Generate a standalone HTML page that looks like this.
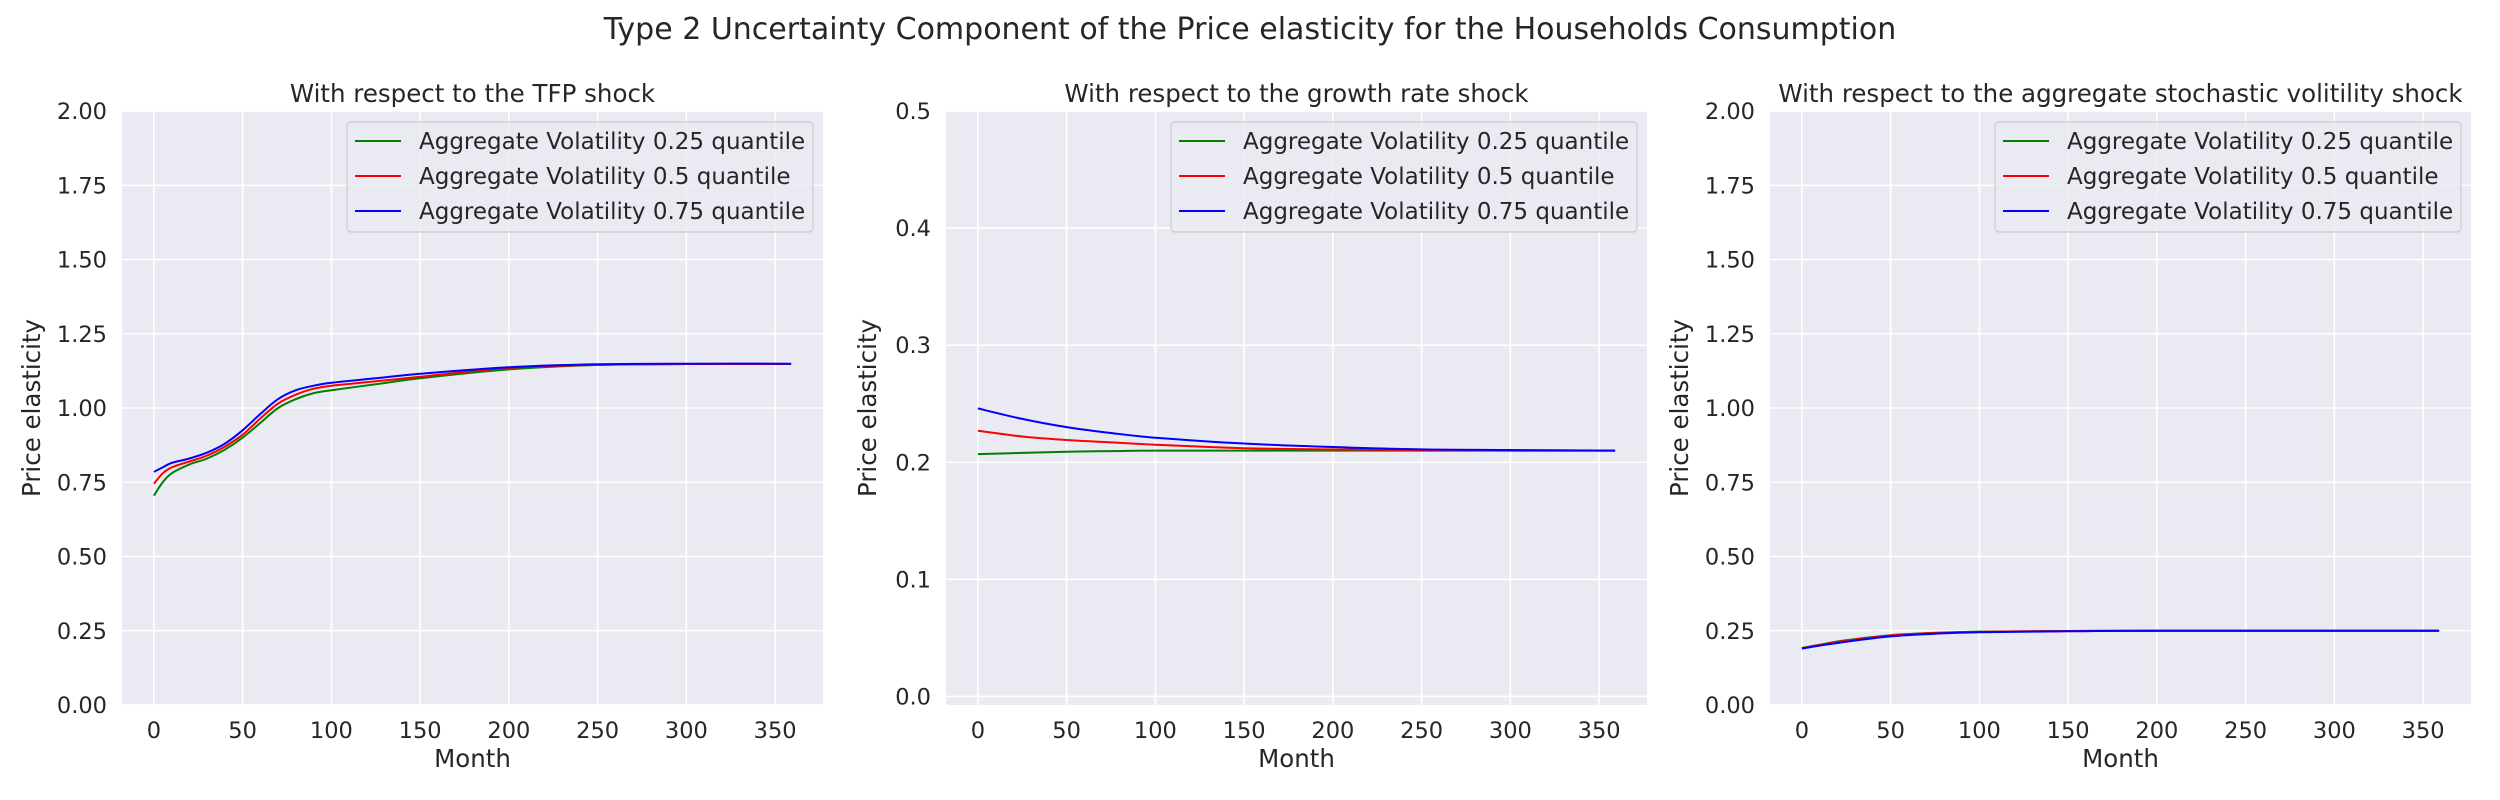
<!DOCTYPE html>
<html><head><meta charset="utf-8">
<style>
html,body{margin:0;padding:0;background:#fff;}
svg{display:block;font-family:"DejaVu Sans","Liberation Sans",sans-serif;}
</style></head>
<body>
<svg id="fig" width="2500" height="800" viewBox="0 0 2500 800" xmlns="http://www.w3.org/2000/svg">
<text x="1250" y="39" text-anchor="middle" font-size="30" fill="#262626">Type 2 Uncertainty Component of the Price elasticity for the Households Consumption</text>
</svg>
<script>
const months=[0,5,10,20,30,40,50,60,70,80,90,100,125,150,200,250,300,359];
const tfpLow=[0.705,0.75,0.78,0.81,0.83,0.86,0.90,0.95,1.00,1.03,1.05,1.06,1.08,1.10,1.13,1.145,1.148,1.148];
const tfpMid=[0.745,0.78,0.80,0.82,0.84,0.87,0.91,0.965,1.015,1.045,1.065,1.075,1.09,1.105,1.135,1.145,1.148,1.148];
const tfpHigh=[0.785,0.80,0.815,0.83,0.85,0.88,0.925,0.98,1.03,1.06,1.075,1.085,1.10,1.115,1.137,1.147,1.149,1.149];
const grMonths=[0,25,50,75,100,150,200,250,300,359];
const grLow=[0.207,0.208,0.209,0.2095,0.210,0.210,0.210,0.210,0.210,0.210];
const grMid=[0.227,0.222,0.219,0.217,0.215,0.212,0.211,0.2105,0.210,0.210];
const grHigh=[0.246,0.237,0.230,0.225,0.221,0.216,0.213,0.211,0.2105,0.210];
const svMonths=[0,10,25,50,75,100,150,200,359];
const svLow=[0.192,0.203,0.218,0.235,0.243,0.247,0.249,0.25,0.25];
const svMid=[0.191,0.202,0.216,0.234,0.242,0.246,0.249,0.25,0.25];
const svHigh=[0.190,0.200,0.213,0.231,0.240,0.245,0.248,0.25,0.25];
const xTicks=[0,50,100,150,200,250,300,350];
const yTicks1=["0.00","0.25","0.50","0.75","1.00","1.25","1.50","1.75","2.00"];
const yTicks2=["0.0","0.1","0.2","0.3","0.4","0.5"];
const legendLabels=["Aggregate Volatility 0.25 quantile","Aggregate Volatility 0.5 quantile","Aggregate Volatility 0.75 quantile"];
const colors=["#008000","#ff0000","#0000ff"];

const NS="http://www.w3.org/2000/svg";
const fig=document.getElementById('fig');
function mk(tag,attrs,parent){const e=document.createElementNS(NS,tag);for(const k in attrs)e.setAttribute(k,attrs[k]);(parent||fig).appendChild(e);return e;}
function smooth(P){
 let d='M'+P[0][0].toFixed(1)+','+P[0][1].toFixed(1);
 for(let i=0;i<P.length-1;i++){
  const p0=P[Math.max(0,i-1)],p1=P[i],p2=P[i+1],p3=P[Math.min(P.length-1,i+2)];
  const c1=[p1[0]+(p2[0]-p0[0])/6,p1[1]+(p2[1]-p0[1])/6];
  const c2=[p2[0]-(p3[0]-p1[0])/6,p2[1]-(p3[1]-p1[1])/6];
  d+=` C${c1[0].toFixed(1)},${c1[1].toFixed(1)} ${c2[0].toFixed(1)},${c2[1].toFixed(1)} ${p2[0].toFixed(1)},${p2[1].toFixed(1)}`;
 }
 return d;
}

const panels=[
 {left:122,title:"With respect to the TFP shock",ymin:0,ymax:2,yt:yTicks1,xs:months,series:[tfpLow,tfpMid,tfpHigh],name:"tfp"},
 {left:946,title:"With respect to the growth rate shock",ymin:-0.0073,ymax:0.5,yt:yTicks2,xs:grMonths,series:[grLow,grMid,grHigh],name:"growth"},
 {left:1770,title:"With respect to the aggregate stochastic volitility shock",ymin:0,ymax:2,yt:yTicks1,xs:svMonths,series:[svLow,svMid,svHigh],name:"volatility"}
];
const W=701,TOP=111,H=594,XMIN=-17.95,XMAX=376.95;

panels.forEach(p=>{
 const g=mk('g',{});
 
 
 const xs=v=>p.left+(v-XMIN)/(XMAX-XMIN)*W;
 const ys=v=>TOP+H-(v-p.ymin)/(p.ymax-p.ymin)*H;
 const bg=mk('rect',{x:p.left,y:TOP,width:W,height:H,fill:'#eaeaf2'},g);
 
 
 xTicks.forEach(t=>{
  const l=mk('line',{x1:xs(t),x2:xs(t),y1:TOP,y2:TOP+H,stroke:'#fff','stroke-width':1.6},g);
  
  
  const tx=mk('text',{x:xs(t),y:738,'text-anchor':'middle','font-size':22.5,fill:'#262626'},g);
  
  
  tx.textContent=t;
 });
 p.yt.forEach(t=>{
  const v=parseFloat(t);
  const l=mk('line',{x1:p.left,x2:p.left+W,y1:ys(v),y2:ys(v),stroke:'#fff','stroke-width':1.6},g);
  
  
  const tx=mk('text',{x:p.left-15,y:ys(v)+8,'text-anchor':'end','font-size':22.5,fill:'#262626'},g);
  
  
  tx.textContent=t;
 });
 const ti=mk('text',{x:p.left+W/2,y:102,'text-anchor':'middle','font-size':24.5,fill:'#262626'},g);
 
 
 ti.textContent=p.title;
 const xl=mk('text',{x:p.left+W/2,y:767,'text-anchor':'middle','font-size':24.5,fill:'#262626'},g);
 
 
 xl.textContent='Month';
 const yx=p.left-82+(p.name==='growth'?12:0);
 const yl=mk('text',{x:yx,y:TOP+H/2,'text-anchor':'middle','font-size':24.5,fill:'#262626',transform:`rotate(-90 ${yx} ${TOP+H/2})`},g);
 
 
 yl.textContent='Price elasticity';
 p.series.forEach((s,i)=>{
  const P=s.map((v,j)=>[xs(p.xs[j]),ys(v)]);
  const pl=mk('path',{d:smooth(P),fill:'none',stroke:colors[i],'stroke-width':2,'stroke-linejoin':'round'},g);
  
  
 });
 const lx=p.left+W-476, ly=122;
 const lg=mk('g',{},g);
 
 
 mk('rect',{x:lx,y:ly,width:466,height:110,rx:4,fill:'#eaeaf2','fill-opacity':0.8,stroke:'#cccccc','stroke-width':1.2},lg);
 legendLabels.forEach((lab,i)=>{
  const yy=ly+19+i*35;
  const ll=mk('line',{x1:lx+8,x2:lx+54,y1:yy,y2:yy,stroke:colors[i],'stroke-width':2},lg);
  
  
  const lt=mk('text',{x:lx+72,y:yy+8,'font-size':23,fill:'#262626'},lg);
  
  
  lt.textContent=lab;
 });
});
</script>
</body></html>
